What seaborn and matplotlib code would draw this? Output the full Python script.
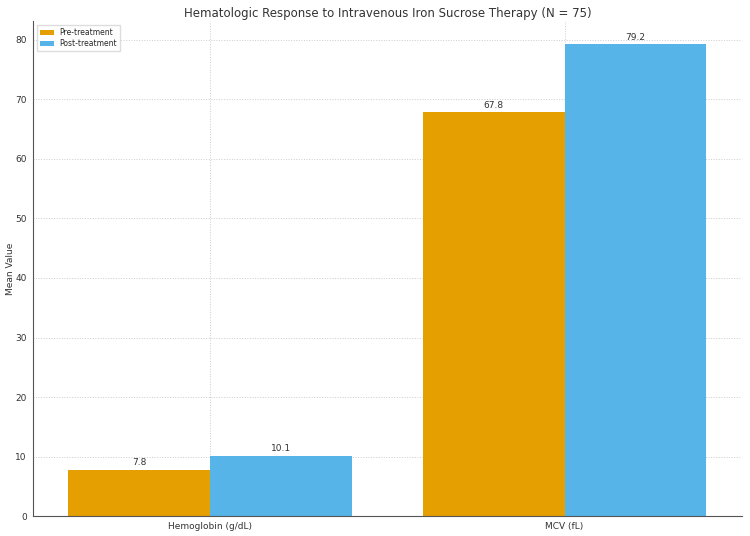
import pandas as pd
import matplotlib
matplotlib.use("Agg")
import matplotlib.pyplot as plt
import seaborn as sns

# Chart values
measures = ["Hemoglobin (g/dL)", "MCV (fL)"]
pre_treatment = [7.8, 67.8]
post_treatment = [10.1, 79.2]
groups = ["Pre-treatment", "Post-treatment"]
colors = ["#E69F00", "#56B4E9"]

df = pd.DataFrame({
    "Measure": measures * 2,
    "Group": [groups[0]] * len(measures) + [groups[1]] * len(measures),
    "Value": pre_treatment + post_treatment,
})

sns.set_style("whitegrid")
plt.rcParams["font.family"] = ["DejaVu Sans"]

fig, ax = plt.subplots(figsize=(7.5, 5.36), dpi=100)
sns.barplot(data=df, x="Measure", y="Value", hue="Group", hue_order=groups,
            palette=colors, width=0.8, errorbar=None, saturation=1,
            linewidth=0, edgecolor="none", ax=ax)

# Value labels above bars
for container in ax.containers:
    ax.bar_label(container, fmt="%.1f", fontsize=6.5, color="#333333", padding=2)

ax.set_title("Hematologic Response to Intravenous Iron Sucrose Therapy (N = 75)",
             fontsize=8.5, color="#333333", pad=2.5)
ax.set_xlabel("")
ax.set_ylabel("Mean Value", fontsize=6.5, color="#333333", labelpad=0)
ax.tick_params(axis="both", labelsize=6.5, length=2.5, width=0.6, pad=2,
               colors="#333333")
ax.grid(True, linestyle=":", linewidth=0.7, color="#cccccc")
ax.set_axisbelow(True)

for side in ["top", "right"]:
    ax.spines[side].set_visible(False)
for side in ["left", "bottom"]:
    ax.spines[side].set_color("#555555")
    ax.spines[side].set_linewidth(0.8)

ax.legend(loc="upper left", fontsize=5.5, frameon=True, framealpha=1,
          edgecolor="#dddddd", fancybox=False, handlelength=1.8,
          handleheight=0.6, borderpad=0.4, labelspacing=0.3)

fig.subplots_adjust(left=0.044, right=0.989, top=0.961, bottom=0.037)
plt.savefig("out.png", dpi=100)
